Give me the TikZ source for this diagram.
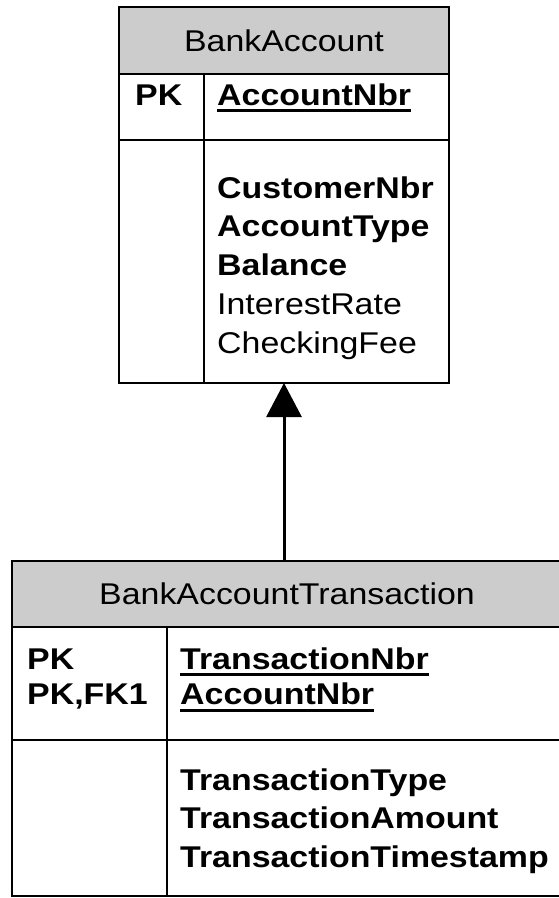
\documentclass[tikz,border=0pt]{standalone}
\usepackage{fontspec}
\setmainfont{Liberation Sans}[FakeStretch=1.13]
\usetikzlibrary{positioning,arrows.meta}
\definecolor{colorhead}{RGB}{204,204,204}
\definecolor{colortext}{RGB}{0,0,0}
\newlength\keywd
\newcommand{\keyline}[1]{\settowidth{\keywd}{#1}#1\llap{\rule[-7pt]{\keywd}{3pt}}}

\begin{document}
\begin{tikzpicture}[
    x=1pt, y=-1pt,
    font={\fontsize{30}{35}\selectfont},
    frame/.style={draw=colortext,line width=2.2pt,rectangle,anchor=north west,inner sep=0pt,outer sep=0pt},
    head/.style={frame,fill=colorhead,text=colortext},
    key/.style={text=colortext,font={\fontsize{30}{35}\selectfont\bfseries},inner sep=0pt,text height=24pt,text depth=11.5pt,anchor=base west},
    field/.style={text=colortext,inner sep=0pt,text height=27pt,text depth=11.5pt,anchor=base west},
    bfield/.style={field,font={\fontsize{30}{35}\selectfont\bfseries}},
    nextline/.style={below=0pt of #1.south west,anchor=north west},
]
    \useasboundingbox (0,0) rectangle (559,898);

    % Tables
    \node[head,minimum width=330pt,minimum height=67pt]  (acchead) at (119,7)   {BankAccount};
    \node[frame,minimum width=330pt,minimum height=66pt] (acckey)  at (119,74)  {};
    \node[frame,minimum width=330pt,minimum height=243pt](accbody) at (119,140) {};
    \draw[line width=2.2pt] ([xshift=85pt]acckey.north west) -- ([xshift=85pt]accbody.south west);

    \node[head,minimum width=550pt,minimum height=66pt]  (trnhead) at (12,561)  {BankAccountTransaction};
    \node[frame,minimum width=550pt,minimum height=113pt](trnkey)  at (12,627)  {};
    \node[frame,minimum width=550pt,minimum height=156pt](trnbody) at (12,740)  {};
    \draw[line width=2.2pt] ([xshift=155pt]trnkey.north west) -- ([xshift=155pt]trnbody.south west);

    % Text
    \node[key] (accpk)  at (135,105) {PK};
    \node[key] (accnbr) at (217,105) {\keyline{AccountNbr}};
    \node[bfield] (custnbr) at (217,198) {CustomerNbr};
    \node[bfield,nextline=custnbr]  (accttype) {AccountType};
    \node[bfield,nextline=accttype] (balance)  {Balance};
    \node[field,nextline=balance]   (intrate)  {InterestRate};
    \node[field,nextline=intrate]   (chkfee)   {CheckingFee};

    \node[key] (trnpk)   at (27,669)  {PK};
    \node[key,nextline=trnpk] (trnfk) {PK,FK1};
    \node[key] (trnnbr)  at (180,669) {\keyline{TransactionNbr}};
    \node[key,nextline=trnnbr] (trnacct) {\keyline{AccountNbr}};
    \node[bfield] (trntype) at (180,790) {TransactionType};
    \node[bfield,nextline=trntype] (trnamt)  {TransactionAmount};
    \node[bfield,nextline=trnamt]  (trntime) {TransactionTimestamp};

    % Arrows
    \draw[-{Triangle[width=35pt,length=34pt]},line width=3pt] (trnhead.north -| accbody.south) -- (accbody.south);

\end{tikzpicture}
\end{document}
